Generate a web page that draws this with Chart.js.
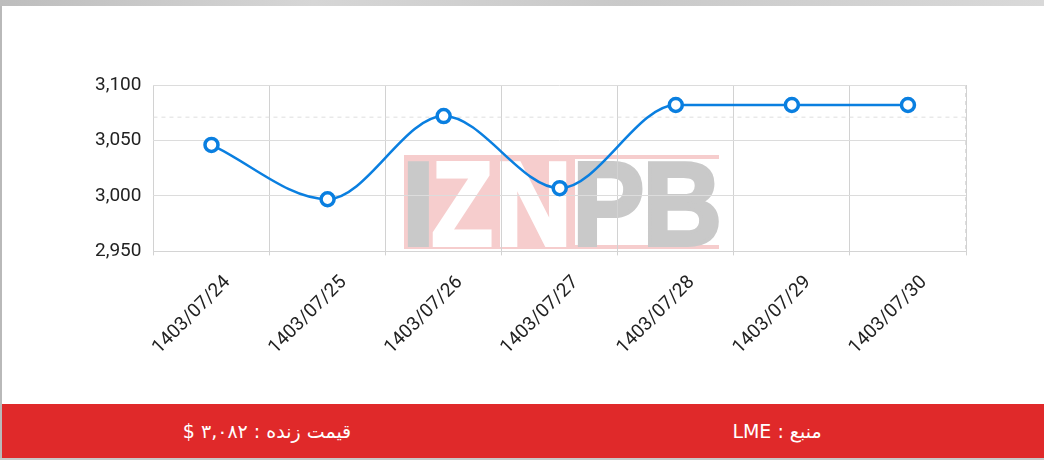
<!DOCTYPE html>
<html lang="fa">
<head>
<meta charset="utf-8">
<title>LME</title>
<script src="https://cdn.jsdelivr.net/npm/chart.js@4/dist/chart.umd.min.js"></script>
<style>
    html, body { margin: 0; padding: 0; background: #fff; }
    body { width: 1044px; height: 460px; overflow: hidden; position: relative; }
    .topbar { height: 6px; background: linear-gradient(to right, #bdbdbd, #d6d6d6 30%, #c9c9c9 60%, #d9d9d9); }
    .wrap { position: relative; height: 398px; border-left: 2px solid #b9b9b9; box-sizing: border-box; }
    .footer {
        height: 54px; background: #e0292a; color: #fff; display: flex;
        font-family: "DejaVu Sans", sans-serif; font-size: 19px; border-left: 2px solid #b9b9b9;
    }
    .footer div { flex: 1; display: flex; align-items: center; justify-content: center; }
    .bottombar { height: 2px; background: #c8c8c8; }
</style>
</head>
<body>
<div class="topbar"></div>
<div class="wrap"><canvas id="chart" width="1042" height="398"></canvas></div>
<div class="footer">
    <div dir="rtl" style="padding-left:10px">قیمت زنده : ۳,۰۸۲ $</div>
    <div dir="rtl" style="padding-right:12px">منبع : LME</div>
</div>
<div class="bottombar"></div>
<script>
// data
const labels = ["1403/07/24", "1403/07/25", "1403/07/26", "1403/07/27", "1403/07/28", "1403/07/29", "1403/07/30"];
const prices = [3046, 2997, 3072, 3007, 3082, 3082, 3082];
const yTicks = [2950, 3000, 3050, 3100];
const refLine = 3071;

const blue = "#0a7fe0";
const wmGray = "#c9c9c9";
const wmPink = "#f6cdcd";

// draws one watermark letter squeezed into a box
function letter(ctx, ch, x, w, color) {
    ctx.save();
    ctx.font = "bold 118px 'Liberation Sans'";
    const m = ctx.measureText(ch);
    const mw = m.actualBoundingBoxRight + m.actualBoundingBoxLeft;
    ctx.translate(x, 239);
    ctx.scale(w / mw, 1);
    ctx.translate(m.actualBoundingBoxLeft, 0);
    ctx.fillStyle = color;
    ctx.strokeStyle = color;
    ctx.lineWidth = 4;
    ctx.fillText(ch, 0, 0);
    ctx.strokeText(ch, 0, 0);
    ctx.restore();
}

// watermark behind the grid
const watermark = {
    id: "watermark",
    beforeDraw(chart) {
        const ctx = chart.ctx;
        ctx.save();
        ctx.fillStyle = wmPink;
        ctx.fillRect(402, 149, 315, 4);
        ctx.fillRect(402, 239, 315, 4);
        ctx.fillRect(402, 153, 171, 86);
        letter(ctx, "I", 407, 18, wmGray);
        letter(ctx, "Z", 432, 56, "#fff");
        letter(ctx, "N", 499, 64, "#fff");
        letter(ctx, "P", 577, 62, wmGray);
        letter(ctx, "B", 647, 68, wmGray);
        ctx.restore();
    }
};

// dashed reference line and right dashed edge
const extras = {
    id: "extras",
    beforeDatasetsDraw(chart) {
        const { ctx, chartArea: a, scales } = chart;
        ctx.save();
        const y = scales.y.getPixelForValue(refLine);
        ctx.strokeStyle = "#dedede";
        ctx.lineWidth = 1;
        ctx.setLineDash([4, 4]);
        ctx.beginPath();
        ctx.moveTo(a.left, y);
        ctx.lineTo(a.right, y);
        ctx.stroke();
        ctx.beginPath();
        ctx.moveTo(a.right - 0.5, a.top);
        ctx.lineTo(a.right - 0.5, a.bottom);
        ctx.stroke();
        ctx.restore();
    }
};

new Chart(document.getElementById("chart"), {
    type: "line",
    data: {
        labels: labels,
        datasets: [
            {
                data: prices,
                borderColor: blue,
                borderWidth: 2.5,
                cubicInterpolationMode: "monotone",
                pointRadius: 6.5,
                pointBorderWidth: 3.5,
                pointBackgroundColor: "#fff",
                pointBorderColor: blue,
                fill: false,
            },
        ],
    },
    options: {
        responsive: false,
        animation: false,
        layout: { padding: { left: 81, right: 78, top: 79, bottom: 29 } },
        plugins: {
            legend: { display: false },
            tooltip: { enabled: false },
        },
        scales: {
            x: {
                offset: true,
                grid: {
                    offset: true,
                    color: (c) => (c.index === labels.length ? "rgba(0,0,0,0)" : "#d2d2d2"),
                    drawTicks: true,
                    tickLength: 4,
                },
                border: { color: "#d4d4d4" },
                ticks: {
                    color: "#222",
                    font: { family: "Roboto", size: 19 },
                    maxRotation: 45,
                    minRotation: 45,
                    padding: 16,
                    labelOffset: 16,
                },
            },
            y: {
                min: yTicks[0],
                max: yTicks[yTicks.length - 1],
                afterBuildTicks: (axis) => { axis.ticks = yTicks.map((v) => ({ value: v })); },
                grid: { color: "#dcdcdc", drawTicks: false },
                border: { display: false },
                ticks: {
                    color: "#222",
                    font: { family: "Roboto", size: 19 },
                    padding: 12,
                    callback: (v) => v.toLocaleString("en-US"),
                },
            },
        },
    },
    plugins: [watermark, extras],
});
</script>
</body>
</html>
